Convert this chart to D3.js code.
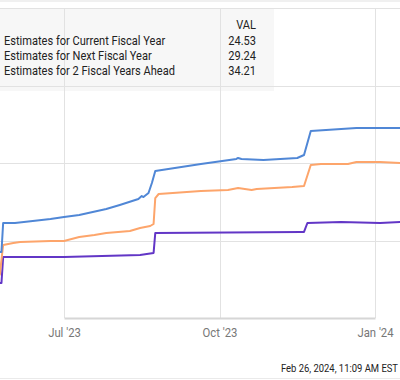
<!DOCTYPE html>
<html>
<head>
<meta charset="utf-8">
<script src="https://cdn.jsdelivr.net/npm/d3@7"></script>
<style>
  body { margin: 0; background: #fff; }
  svg { display: block; font-family: Roboto, "Noto Sans", sans-serif; }
</style>
</head>
<body>
<div class="graph"></div>
<script>
// series: [date, value]
const currentFY = [
  ["2023-05-24", 9.52], ["2023-05-25", 9.52], ["2023-05-26", 12.87], ["2023-07-01", 12.87],
  ["2023-08-15", 13.13], ["2023-08-23", 13.39], ["2023-08-24", 15.97], ["2023-11-18", 16.10],
  ["2023-11-20", 16.10], ["2023-11-22", 17.26], ["2023-12-12", 17.39], ["2024-01-04", 17.26],
  ["2024-01-16", 17.39]
];
const nextFY = [
  ["2023-05-24", 10.5], ["2023-05-25", 12.5], ["2023-05-26", 14.42], ["2023-06-01", 14.68],
  ["2023-06-05", 14.81], ["2023-06-23", 14.94], ["2023-07-01", 14.94], ["2023-07-10", 15.45],
  ["2023-07-19", 15.71], ["2023-07-26", 15.97], ["2023-08-09", 16.23], ["2023-08-15", 16.61],
  ["2023-08-21", 16.87], ["2023-08-23", 17.13], ["2023-08-24", 20.48], ["2023-08-26", 21.0],
  ["2023-09-20", 21.39], ["2023-10-06", 21.52], ["2023-10-12", 21.77], ["2023-10-20", 21.52],
  ["2023-10-23", 21.65], ["2023-11-13", 21.9], ["2023-11-20", 22.03], ["2023-11-24", 24.74],
  ["2023-11-30", 24.87], ["2023-12-16", 24.87], ["2023-12-21", 25.13], ["2024-01-04", 25.13],
  ["2024-01-16", 25.0]
];
const twoYearsFY = [
  ["2023-05-24", 13.52], ["2023-05-25", 13.52], ["2023-05-26", 17.26], ["2023-06-02", 17.26],
  ["2023-06-23", 17.77], ["2023-07-01", 18.03], ["2023-07-10", 18.29], ["2023-07-26", 19.06],
  ["2023-08-03", 19.58], ["2023-08-14", 20.35], ["2023-08-16", 20.74], ["2023-08-17", 20.61],
  ["2023-08-20", 21.13], ["2023-08-22", 22.42], ["2023-08-24", 23.97], ["2023-09-20", 24.87],
  ["2023-10-11", 25.52], ["2023-10-12", 25.65], ["2023-10-14", 25.52], ["2023-10-27", 25.39],
  ["2023-11-16", 25.65], ["2023-11-20", 26.03], ["2023-11-24", 29.13], ["2023-12-21", 29.52],
  ["2024-01-16", 29.52]
];

const legendNames = ["Estimates for Current Fiscal Year", "Estimates for Next Fiscal Year", "Estimates for 2 Fiscal Years Ahead"];
const legendValues = ["24.53", "29.24", "34.21"];
const colors = ["#6236c6", "#fda56b", "#5087d6"];
const tickDates = ["2023-07-01", "2023-10-01", "2024-01-01"];
const tickLabels = ["Jul '23", "Oct '23", "Jan '24"];
const yGrid = [5, 15, 25, 35, 45];
const stamp = "Feb 26, 2024, 11:09 AM EST";

const W = 400, H = 380;
const parse = d3.utcParse("%Y-%m-%d");

// squeeze text a bit, the original uses a narrow font
function condense(sel, k) {
  sel.each(function() {
    const len = this.getComputedTextLength();
    d3.select(this)
      .attr("textLength", len * k)
      .attr("lengthAdjust", "spacingAndGlyphs");
  });
}

const svg = d3.select(".graph").append("svg")
  .attr("width", W)
  .attr("height", H);

svg.append("rect").attr("width", W).attr("height", H).attr("fill", "#fff");
svg.append("rect").attr("width", W).attr("height", 2).attr("fill", "#f0f0f0");

const x = d3.scaleUtc()
  .domain([parse("2023-07-01"), parse("2024-01-01")])
  .range([64, 375]);

const y = d3.scaleLinear()
  .domain([5, 45])
  .range([318, 8]);

// legend box (under the grid)
svg.append("rect")
  .attr("x", 0).attr("y", 9)
  .attr("width", 274).attr("height", 82)
  .attr("fill", "#f7f7f7");

// grid
svg.append("g").selectAll("line")
  .data(yGrid.slice(1))
  .join("line")
  .attr("x1", 0).attr("x2", W)
  .attr("y1", d => Math.round(y(d)) + 0.5)
  .attr("y2", d => Math.round(y(d)) + 0.5)
  .attr("stroke", "#e2e2e2");

svg.append("g").selectAll("line")
  .data(tickDates)
  .join("line")
  .attr("x1", d => Math.round(x(parse(d))) + 0.5)
  .attr("x2", d => Math.round(x(parse(d))) + 0.5)
  .attr("y1", 8).attr("y2", 318)
  .attr("stroke", "#e2e2e2");

// x axis
const xAxis = svg.append("g")
  .attr("transform", `translate(0,${y(5)})`)
  .call(d3.axisBottom(x)
    .tickValues(tickDates.map(parse))
    .tickFormat((d, i) => tickLabels[i])
    .tickSize(0)
    .tickPadding(10));
xAxis.select(".domain").attr("stroke", "#d6d6d6").attr("stroke-width", 2);
xAxis.selectAll("text")
  .attr("fill", "#777")
  .attr("font-size", 13)
  .attr("font-family", "Roboto, sans-serif")
  .call(condense, 0.87);

// lines
const line = d3.line()
  .x(d => x(parse(d[0])))
  .y(d => y(d[1]));

[currentFY, nextFY, twoYearsFY].forEach((s, i) => {
  svg.append("path")
    .datum(s)
    .attr("d", line)
    .attr("fill", "none")
    .attr("stroke", colors[i])
    .attr("stroke-width", 2)
    .attr("stroke-linejoin", "round");
});

// legend text
const lg = svg.append("g").attr("font-size", 13).attr("fill", "#222");
lg.append("text").attr("x", 256).attr("y", 29).attr("text-anchor", "end").text("VAL");
legendNames.forEach((name, i) => {
  lg.append("text").attr("x", 4).attr("y", 45 + i * 15).text(name);
  lg.append("text").attr("x", 256).attr("y", 45 + i * 15).attr("text-anchor", "end").text(legendValues[i]);
});
lg.selectAll("text").call(condense, 0.85);

// timestamp
svg.append("text")
  .attr("x", 398).attr("y", 372)
  .attr("text-anchor", "end")
  .attr("font-size", 11.5)
  .attr("fill", "#222")
  .text(stamp)
  .call(condense, 0.82);

svg.append("line")
  .attr("x1", 0).attr("x2", W)
  .attr("y1", 378.5).attr("y2", 378.5)
  .attr("stroke", "#eaeaea");
</script>
</body>
</html>
